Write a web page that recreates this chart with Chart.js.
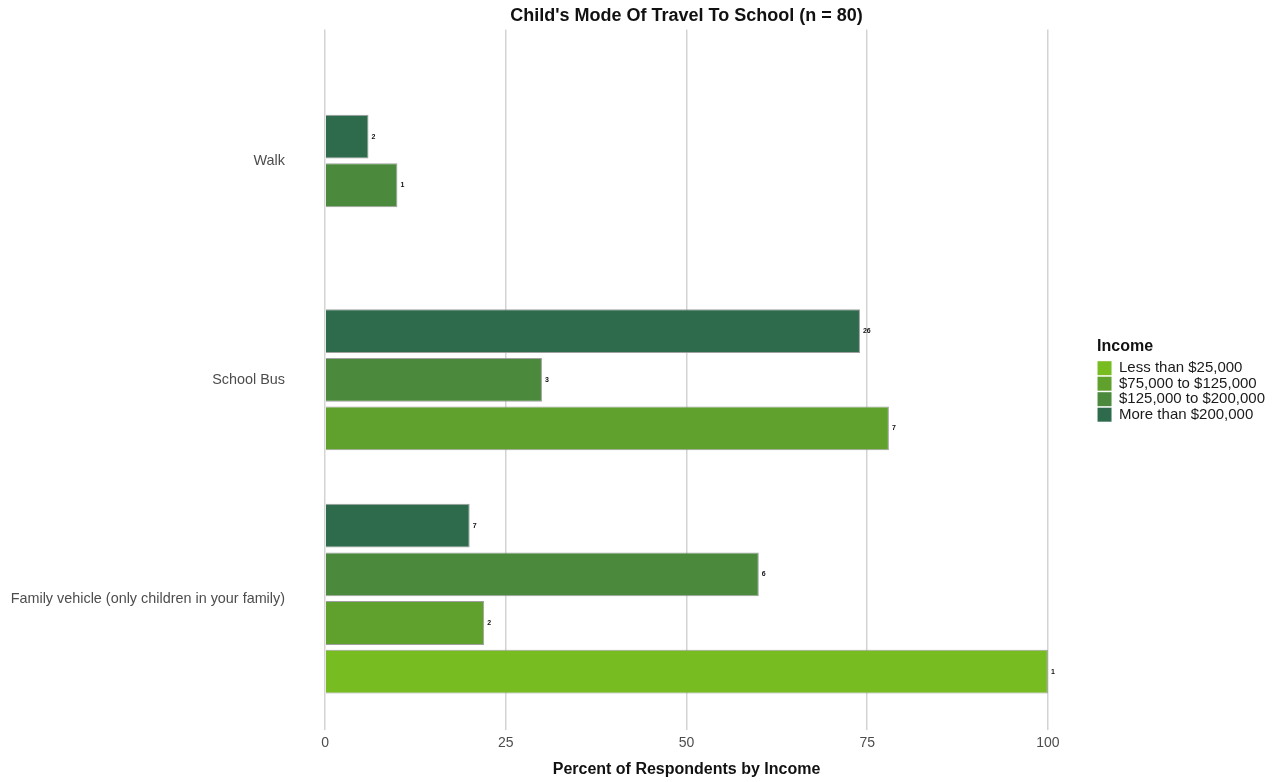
<!DOCTYPE html>
<html>
<head>
<meta charset="utf-8">
<title>Child's Mode Of Travel To School</title>
<script src="https://cdn.jsdelivr.net/npm/chart.js@4.4.0/dist/chart.umd.min.js"></script>
<style>
  html, body { margin: 0; padding: 0; background: #fff; }
  #wrap { width: 1275px; height: 782px; }
</style>
</head>
<body>
<div id="wrap"><canvas id="modeChart"></canvas></div>
<script>
const modes = ["Walk", "School Bus", "Family vehicle (only children in your family)"];
const incomeGroups = ["Less than $25,000", "$75,000 to $125,000", "$125,000 to $200,000", "More than $200,000"];
const incomeColors = ["#77bc20", "#60a12d", "#4b8a3c", "#2e6b4c"];
const xTicks = [0, 25, 50, 75, 100];

// percent of each income group using the mode (null = no one)
const pctLess25 = [null, null, 100];
const pct75to125 = [null, 78, 22];
const pct125to200 = [10, 30, 60];
const pctOver200 = [6, 74, 20];

// respondent counts printed at the end of each bar
const nLess25 = [null, null, 1];
const n75to125 = [null, 7, 2];
const n125to200 = [1, 3, 6];
const nOver200 = [2, 26, 7];

const percents = [pctLess25, pct75to125, pct125to200, pctOver200];
const counts = [nLess25, n75to125, n125to200, nOver200];

Chart.defaults.font.family = "'Liberation Sans', Arial, sans-serif";

// spacing between modes, in bar slots
const GROUP_STEP = 4.5;

// bars of a mode sit one slot apart, highest income on top, centred on the mode
const slots = percents.map(() => []);
modes.forEach((m, c) => {
  const present = [3, 2, 1, 0].filter(g => percents[g][c] != null);
  present.forEach((g, k) => {
    slots[g][c] = c * GROUP_STEP - (present.length - 1) / 2 + k;
  });
});

const datasets = incomeGroups.map((name, g) => ({
  label: name,
  data: modes
    .map((m, c) => percents[g][c] == null ? null : { x: percents[g][c], y: slots[g][c], n: counts[g][c] })
    .filter(p => p),
  backgroundColor: incomeColors[g],
  borderColor: "rgba(150,150,150,0.9)",
  borderWidth: 1,
  grouped: false,
  categoryPercentage: 1,
  barPercentage: 0.9
}));

const countLabels = {
  id: "countLabels",
  afterDatasetsDraw(chart) {
    const ctx = chart.ctx;
    ctx.save();
    ctx.font = "bold 7px 'Liberation Sans', Arial, sans-serif";
    ctx.fillStyle = "#111";
    ctx.textBaseline = "middle";
    ctx.textAlign = "left";
    chart.data.datasets.forEach((ds, i) => {
      chart.getDatasetMeta(i).data.forEach((bar, j) => {
        ctx.fillText(ds.data[j].n, bar.x + 3, bar.y);
      });
    });
    ctx.restore();
  }
};

new Chart(document.getElementById("modeChart"), {
  type: "bar",
  data: { datasets },
  plugins: [countLabels],
  options: {
    indexAxis: "y",
    responsive: true,
    maintainAspectRatio: false,
    animation: false,
    layout: { padding: { left: 10, right: 0, top: 0, bottom: 1 } },
    plugins: {
      title: {
        display: true,
        fullSize: false,
        text: "Child's Mode Of Travel To School (n = 80)",
        color: "#111",
        font: { size: 18, weight: "bold" },
        padding: { top: 5, bottom: 3 }
      },
      legend: {
        position: "right",
        align: "start",
        title: {
          display: true,
          text: "Income",
          position: "start",
          color: "#111",
          font: { size: 16, weight: "bold" },
          // legend block sits a little above the middle of the plot
          padding: { top: 339, bottom: 2 }
        },
        labels: {
          color: "#1a1a1a",
          font: { size: 15 },
          boxWidth: 14,
          boxHeight: 14,
          padding: 0.5,
          generateLabels: chart =>
            Chart.defaults.plugins.legend.labels.generateLabels(chart).map(l => ({ ...l, lineWidth: 0 }))
        }
      },
      tooltip: { enabled: false }
    },
    scales: {
      x: {
        type: "linear",
        min: -5,
        max: 105,
        afterBuildTicks: s => { s.ticks = xTicks.map(v => ({ value: v })); },
        grid: { color: "#d3d3d3", lineWidth: 1.5, drawTicks: false },
        border: { display: false },
        ticks: { color: "#4d4d4d", font: { size: 14 }, padding: 5 },
        title: {
          display: true,
          text: "Percent of Respondents by Income",
          color: "#111",
          font: { size: 16, weight: "bold" },
          padding: { top: 3, bottom: 2 }
        }
      },
      y: {
        type: "linear",
        reverse: true,
        offset: false,
        min: -2.7,
        max: (modes.length - 1) * GROUP_STEP + 2.7,
        afterBuildTicks: s => { s.ticks = modes.map((m, c) => ({ value: c * GROUP_STEP })); },
        afterFit: s => { s.width = 279; },
        grid: { display: false, offset: false, drawTicks: false },
        border: { display: false },
        ticks: {
          color: "#4d4d4d",
          font: { size: 14.4 },
          padding: 4,
          callback: (v, i) => modes[i]
        }
      },
      // empty strip between the plot and the legend
      gap: {
        type: "linear",
        axis: "y",
        position: "right",
        grid: { display: false },
        border: { display: false },
        ticks: { display: false },
        afterFit: s => { s.width = 13; }
      }
    }
  }
});
</script>
</body>
</html>
